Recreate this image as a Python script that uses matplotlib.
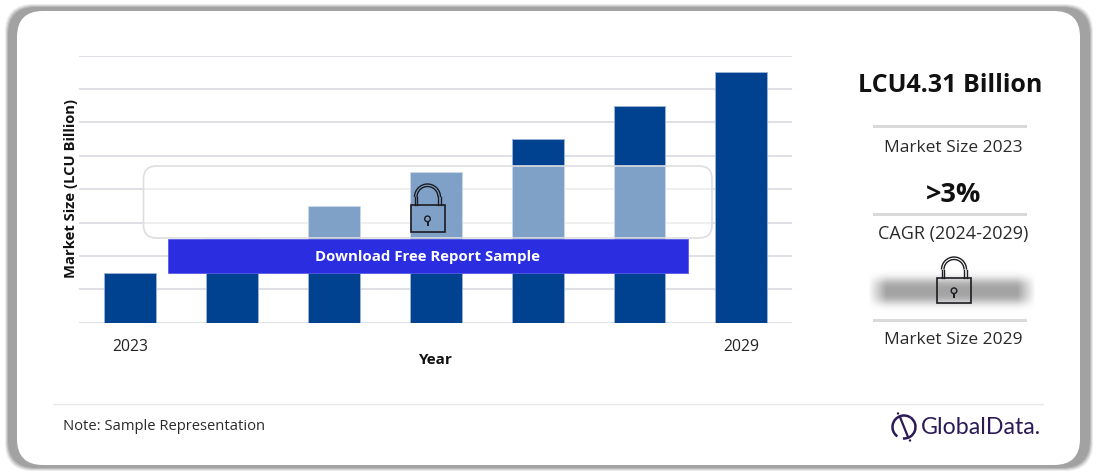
import numpy as np
import matplotlib
matplotlib.use("Agg")
import matplotlib.pyplot as plt
from matplotlib.patches import FancyBboxPatch, Rectangle, Arc, Circle

# bar heights read off the gridlines (axis has no numbers, sample representation)
years = ["2023", "2024", "2025", "2026", "2027", "2028", "2029"]
values = [1.5, 2.5, 3.5, 4.5, 5.5, 6.5, 7.5]
tick_labels = ["2023", "", "", "", "", "", "2029"]

W, H = 1097, 476
plt.rcParams['font.family'] = ['Open Sans', 'DejaVu Sans']

fig = plt.figure(figsize=(W / 100, H / 100), dpi=100, facecolor="white")

# back layer in pixel coords, y down
bg = fig.add_axes([0, 0, 1, 1], zorder=0)
bg.set_xlim(0, W)
bg.set_ylim(H, 0)
bg.axis("off")


def rbox(ax, x0, y0, x1, y1, r, **kw):
    p = FancyBboxPatch((x0 + r, y0 + r), x1 - x0 - 2 * r, y1 - y0 - 2 * r,
                       boxstyle="round,pad=%f,rounding_size=%f" % (r, r), **kw)
    ax.add_patch(p)
    return p


# soft grey frame
for grow, c in [(3, "#ececec"), (2, "#d4d4d4"), (1, "#b8b8b8"), (0, "#a2a2a2")]:
    rbox(bg, 8 - grow, 7 - grow, 1090 + grow, 468 + grow, 28, fc=c, ec="none")
rbox(bg, 17, 11, 1080, 465, 26, fc="white", ec="none")

# the chart
ax = fig.add_axes([79.3 / W, 1 - 322.8 / H, 713 / W, 267.3 / H], zorder=1)
ax.patch.set_alpha(0)
ax.bar(range(len(years)), values, width=0.51, color="#004190",
       edgecolor="#9db4d6", linewidth=0.6, zorder=3)
ax.set_xlim(-0.5, 6.5)
ax.set_ylim(0, 8)
ax.set_yticks(range(0, 9))
ax.set_yticklabels([])
ax.set_xticks(range(len(years)))
ax.set_xticklabels(tick_labels, fontsize=11.3, color="#222222")
ax.tick_params(length=0, pad=12)
ax.grid(axis="y", color="#dfdfe6", linewidth=1.4, zorder=0)
ax.set_axisbelow(True)
for s in ax.spines.values():
    s.set_visible(False)

# front layer, same pixel coords
top = fig.add_axes([0, 0, 1, 1], zorder=2)
top.set_xlim(0, W)
top.set_ylim(H, 0)
top.axis("off")
top.patch.set_alpha(0)

top.text(70.5, 189, "Market Size (LCU Billion)", rotation=90, ha="center", va="center",
         fontsize=10.6, fontweight="bold", color="#111111")
top.text(436, 360, "Year", ha="center", va="center", fontsize=11,
         fontweight="bold", color="#111111")

# locked overlay and banner
rbox(top, 143.5, 166, 712, 238, 13, fc=(1, 1, 1, 0.5), ec="#dedee2", lw=1.2)
top.add_patch(Rectangle((167.5, 238.5), 520, 34.5, fc="#2a2de0", ec="#5a5ce8", lw=0.6))
top.text(427.5, 257, "Download Free Report Sample", ha="center", va="center",
         fontsize=10.8, fontweight="bold", color="white")


def lock(cx, y_top, y_body, y_bot, hw, shackle_w):
    # shackle then body, everything in px
    for sw in (shackle_w, shackle_w - 5):
        r = sw / 2
        top.add_patch(Arc((cx, y_top + shackle_w / 2), sw, sw, theta1=180, theta2=360,
                          ec="#1c1c22", lw=1.0))
        top.plot([cx - r, cx - r], [y_top + shackle_w / 2, y_body], color="#1c1c22", lw=1.0)
        top.plot([cx + r, cx + r], [y_top + shackle_w / 2, y_body], color="#1c1c22", lw=1.0)
    top.add_patch(Rectangle((cx - hw, y_body), 2 * hw, y_bot - y_body, fc="none",
                            ec="#1c1c22", lw=1.2))
    ym = y_body + (y_bot - y_body) * 0.55
    top.add_patch(Circle((cx, ym - 1), 2.8, fc="none", ec="#1c1c22", lw=1.0))
    top.plot([cx, cx], [ym + 1.8, ym + 5], color="#1c1c22", lw=1.4)


lock(427.5, 184, 205, 232, 17, 26)

# right hand panel
top.text(950, 86, "LCU4.31 Billion", ha="center", va="center", fontsize=18,
         fontweight="bold", color="#111111")
top.text(953, 148, "Market Size 2023", ha="center", va="center", fontsize=12.5, color="#2a2a2a")
top.text(953.5, 195, ">3%", ha="center", va="center", fontsize=19.5, fontweight="bold",
         color="#111111")
top.text(953.5, 234, "CAGR (2024-2029)", ha="center", va="center", fontsize=13, color="#2a2a2a")
top.text(953, 340, "Market Size 2029", ha="center", va="center", fontsize=12.5, color="#2a2a2a")
for yy in (126, 214, 320):
    top.add_patch(Rectangle((873, yy - 1.5), 154, 3.4, fc="#d9d9d9", ec="none"))

# blurred value behind the second lock
xx = np.linspace(860, 1044, 184)
yy = np.linspace(265, 317, 52)
gx = np.clip((xx - 868) / 18, 0, 1) * np.clip((1036 - xx) / 18, 0, 1)
gy = np.exp(-(np.abs(yy - 291) / 13) ** 3)
alpha = np.outer(gy, gx) * 0.62
rgba = np.zeros(alpha.shape + (4,))
rgba[..., :3] = 0.42
rgba[..., 3] = alpha
top.imshow(rgba, extent=[860, 1044, 317, 265], aspect="auto", interpolation="bilinear", zorder=1)
top.set_xlim(0, W)
top.set_ylim(H, 0)

lock(954, 257, 278, 303, 17, 25)

# footer
top.plot([54, 1043], [403.5, 403.5], color="#e8e8e8", lw=1)
top.text(63, 426.5, "Note: Sample Representation", ha="left", va="center", fontsize=10.65,
         color="#2a2a2a")

# logo
logo = "#2b1a55"
top.add_patch(Arc((904, 427), 23, 23, theta1=125, theta2=305, ec=logo, lw=1.8))
top.add_patch(Arc((904, 427), 23, 23, theta1=-55, theta2=95, ec=logo, lw=1.8))
top.plot([900, 908], [417, 437], color=logo, lw=1.6)
top.add_patch(Circle((898, 413.5), 1.2, fc=logo, ec="none"))
top.add_patch(Circle((910, 440.5), 1.2, fc=logo, ec="none"))
top.text(921, 427, "GlobalData.", ha="left", va="center", fontsize=16.7, color=logo,
         family=['Lato', 'DejaVu Sans'])

fig.savefig("out.png", dpi=100, facecolor="white")
